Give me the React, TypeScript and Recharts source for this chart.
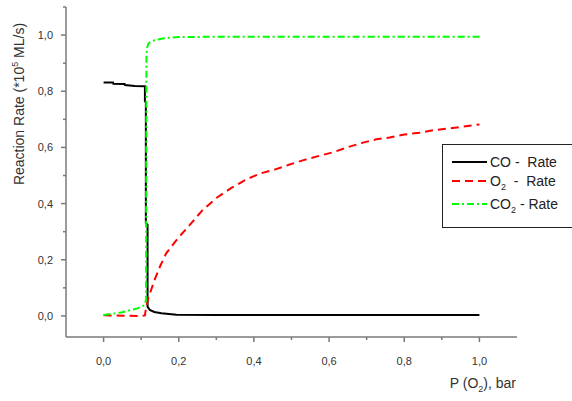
import React from 'react';
import { LineChart, Line, XAxis, YAxis, Legend } from 'recharts';

// ---- Data ----
const coX = [0, 0.025, 0.026, 0.056, 0.057, 0.083, 0.11, 0.11, 0.1125, 0.1125, 0.117, 0.117, 0.123, 0.135, 0.154, 0.194, 0.3, 0.5, 0.7, 1.0];
const coY = [0.831, 0.831, 0.827, 0.826, 0.822, 0.819, 0.818, 0.765, 0.76, 0.33, 0.325, 0.033, 0.021, 0.014, 0.0096, 0.004, 0.003, 0.003, 0.003, 0.003];

const o2X = [0, 0.05, 0.1, 0.11, 0.113, 0.119, 0.125, 0.136, 0.15, 0.167, 0.198, 0.23, 0.262, 0.3, 0.34, 0.38, 0.416, 0.455, 0.495, 0.53, 0.571, 0.611, 0.65, 0.69, 0.726, 0.761, 0.8, 0.84, 0.877, 0.94, 1.0];
const o2Y = [0.002, 0.001, 0.0, 0.002, 0.03, 0.064, 0.087, 0.129, 0.176, 0.224, 0.277, 0.325, 0.375, 0.42, 0.456, 0.486, 0.507, 0.521, 0.539, 0.554, 0.569, 0.583, 0.601, 0.617, 0.629, 0.635, 0.646, 0.652, 0.661, 0.671, 0.682];

const co2X = [0, 0.05, 0.09, 0.11, 0.113, 0.114, 0.116, 0.119, 0.127, 0.136, 0.154, 0.176, 0.2, 0.3, 0.5, 0.7, 1.0];
const co2Y = [0.003, 0.013, 0.027, 0.039, 0.06, 0.93, 0.955, 0.97, 0.977, 0.982, 0.987, 0.991, 0.993, 0.994, 0.994, 0.994, 0.994];

const xTicks = [0, 0.1, 0.2, 0.3, 0.4, 0.5, 0.6, 0.7, 0.8, 0.9, 1.0];
const yTicks = [0, 0.1, 0.2, 0.3, 0.4, 0.5, 0.6, 0.7, 0.8, 0.9, 1.0, 1.1];
const xDomain = [-0.1, 1.1];
const yDomain = [-0.075, 1.1];

const toPts = (xs: number[], ys: number[]) => xs.map((x, i) => ({ x, y: ys[i] }));
const coData = toPts(coX, coY);
const o2Data = toPts(o2X, o2Y);
const co2Data = toPts(co2X, co2Y);

const FONT = 'Arial, "Liberation Sans", sans-serif';
const AXIS = '#7a7a7a';
const TXT = '#333333';

const fmt = (v: number) => v.toFixed(1).replace('.', ',');
const isMajor = (v: number) => Math.round(v * 10) % 2 === 0;

const XTick = (props: any) => {
  const { x, y, payload } = props;
  const major = isMajor(payload.value);
  return (
    <g>
      <line x1={x} x2={x} y1={y} y2={y + (major ? 5 : 3)} stroke={AXIS} strokeWidth={1.5} />
      {major && (
        <text x={x} y={y + 28} textAnchor="middle" fontSize={11} fontFamily={FONT} fill={TXT}>
          {fmt(payload.value)}
        </text>
      )}
    </g>
  );
};

const YTick = (props: any) => {
  const { x, y, payload } = props;
  const major = isMajor(payload.value);
  return (
    <g>
      <line x1={x - (major ? 5 : 3)} x2={x} y1={y} y2={y} stroke={AXIS} strokeWidth={1.5} />
      {major && payload.value <= 1.0 && (
        <text x={x - 13} y={y + 4} textAnchor="end" fontSize={11} fontFamily={FONT} fill={TXT}>
          {fmt(payload.value)}
        </text>
      )}
    </g>
  );
};

const YLabel = () => (
  <text transform="translate(24,104) rotate(-90)" textAnchor="middle" fontSize={14} fontFamily={FONT} fill={TXT}>
    Reaction Rate (*10
    <tspan dy={-6} fontSize={9}>5</tspan>
    <tspan dy={6}> ML/s)</tspan>
  </text>
);

const XLabel = () => (
  <text x={516} y={388} textAnchor="end" fontSize={14} fontFamily={FONT} fill={TXT}>
    P (O
    <tspan dy={4} fontSize={9}>2</tspan>
    <tspan dy={-4}>), bar</tspan>
  </text>
);

const legendItems = [
  { name: 'CO', sub: '', rest: ' -  Rate', color: '#000000', dash: '', top: 16.5 },
  { name: 'O', sub: '2', rest: '  -  Rate', color: '#ff0000', dash: '8 5', top: 36 },
  { name: 'CO', sub: '2', rest: ' - Rate', color: '#00ff00', dash: '7 3 2 3', top: 59 },
];

const LegendBox = () => (
  <div
    style={{
      position: 'relative',
      width: 130,
      height: 84,
      border: '1px solid #222',
      borderRight: 'none',
      background: '#fff',
      boxSizing: 'border-box',
      fontFamily: FONT,
      fontSize: 14,
      color: '#222',
    }}
  >
    {legendItems.map((it, i) => (
      <div key={i} style={{ position: 'absolute', left: 0, top: it.top - 9, height: 18, width: 130 }}>
        <svg width={45} height={18} style={{ position: 'absolute', left: 8, top: 0 }}>
          <line x1={1} x2={36} y1={9} y2={9} stroke={it.color} strokeWidth={2} strokeDasharray={it.dash || undefined} />
        </svg>
        <span style={{ position: 'absolute', left: 47, top: 1, whiteSpace: 'pre', lineHeight: '16px' }}>
          {it.name}
          {it.sub && <sub style={{ fontSize: 9, verticalAlign: -4 }}>{it.sub}</sub>}
          {it.rest}
        </span>
      </div>
    ))}
  </div>
);

export default function App() {
  return (
    <div style={{ position: 'absolute', left: 0, top: 0, width: 572, height: 401, background: '#fff' }}>
      <LineChart width={572} height={401} margin={{ top: 7, right: 55, bottom: 0, left: 0 }}>
        <XAxis
          type="number"
          dataKey="x"
          domain={xDomain}
          ticks={xTicks}
          allowDataOverflow
          height={64}
          tickSize={0}
          tickMargin={0}
          tick={<XTick />}
          axisLine={{ stroke: AXIS, strokeWidth: 1.5 }}
          tickLine={false}
          interval={0}
          label={XLabel}
        />
        <YAxis
          type="number"
          dataKey="y"
          domain={yDomain}
          ticks={yTicks}
          allowDataOverflow
          width={66}
          tickSize={0}
          tickMargin={0}
          tick={<YTick />}
          axisLine={{ stroke: AXIS, strokeWidth: 1.5 }}
          tickLine={false}
          interval={0}
          label={YLabel}
        />
        <Legend
          layout="vertical"
          align="center"
          verticalAlign="middle"
          content={LegendBox}
          wrapperStyle={{ left: 442, top: 144, width: 130, height: 84 }}
        />
        <Line data={coData} dataKey="y" stroke="#000000" strokeWidth={2} dot={false} activeDot={false} isAnimationActive={false} name="CO - Rate" />
        <Line data={o2Data} dataKey="y" stroke="#ff0000" strokeWidth={2} strokeDasharray="8 5" dot={false} activeDot={false} isAnimationActive={false} name="O2 - Rate" />
        <Line data={co2Data} dataKey="y" stroke="#00ff00" strokeWidth={2} strokeDasharray="7 3 2 3" dot={false} activeDot={false} isAnimationActive={false} name="CO2 - Rate" />
      </LineChart>
    </div>
  );
}
